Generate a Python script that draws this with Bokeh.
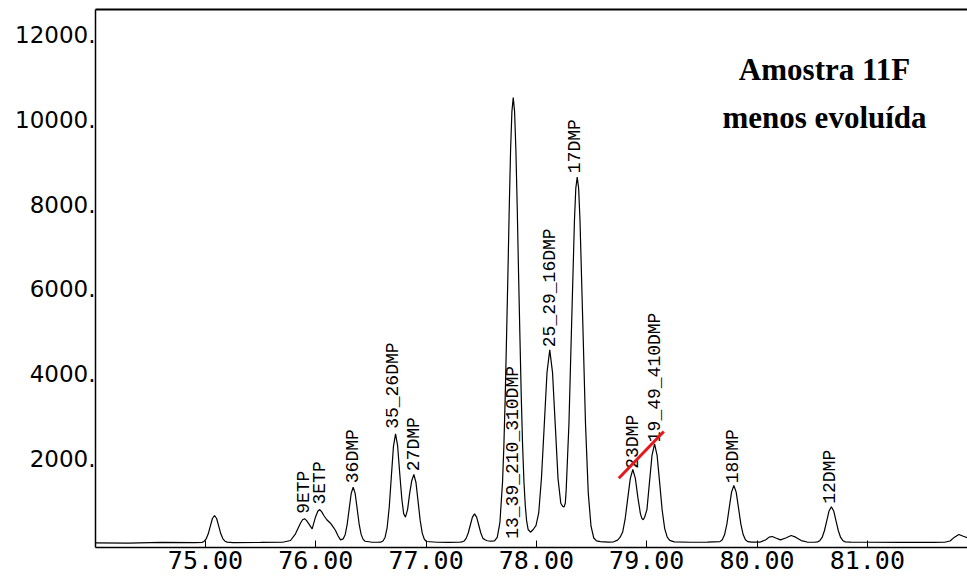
import math
from bokeh.plotting import figure
from bokeh.models import (Range1d, FixedTicker, LinearAxis, PrintfTickFormatter,
                          ColumnDataSource, Label)
from bokeh.core.properties import value
from bokeh.embed import file_html
from bokeh.resources import INLINE

# ---- chromatogram trace (retention time [min], abundance) ----
rt = [
    73.95, 74.0, 74.3, 74.6, 74.9,
    74.968, 74.987, 75.006, 75.025, 75.044, 75.063, 75.082, 75.101, 75.120, 75.139, 75.158, 75.177, 75.196,
    75.25, 75.5, 75.7,
    75.771, 75.816, 75.861, 75.88, 75.898, 75.915, 75.937, 75.967, 75.997, 76.018, 76.036, 76.054, 76.073,
    76.10, 76.133, 76.16, 76.179, 76.20, 76.224,
    76.249, 76.267, 76.285, 76.303, 76.321, 76.339, 76.357, 76.375, 76.393, 76.411, 76.429, 76.447,
    76.50, 76.56, 76.587,
    76.609, 76.628, 76.647, 76.666, 76.685, 76.704, 76.723, 76.742, 76.761, 76.780, 76.797, 76.813, 76.832,
    76.851, 76.870, 76.889, 76.908, 76.927, 76.946, 76.965, 76.984, 77.003,
    77.1, 77.2, 77.3,
    77.325, 77.344, 77.363, 77.382, 77.401, 77.420, 77.439, 77.458, 77.477, 77.496, 77.515, 77.534, 77.554, 77.584,
    77.62, 77.645, 77.669, 77.693, 77.705, 77.717, 77.729, 77.742, 77.754, 77.766, 77.778, 77.790, 77.802,
    77.814, 77.826, 77.838, 77.851, 77.863, 77.875, 77.887, 77.899, 77.911, 77.925, 77.946,
    77.971, 77.996, 78.021, 78.046, 78.071, 78.096, 78.121, 78.146, 78.171, 78.196, 78.221, 78.237, 78.250, 78.262,
    78.27, 78.295, 78.32, 78.345, 78.357, 78.370, 78.383, 78.395, 78.42, 78.445, 78.47, 78.495, 78.52, 78.545,
    78.58, 78.65, 78.70,
    78.736, 78.759, 78.782, 78.805, 78.828, 78.851, 78.874, 78.897, 78.920, 78.943, 78.955, 78.968, 78.981,
    79.002, 79.025, 79.048, 79.071, 79.094, 79.117, 79.14, 79.163, 79.186, 79.209,
    79.25, 79.4, 79.55,
    79.664, 79.685, 79.706, 79.727, 79.748, 79.769, 79.790, 79.811, 79.832, 79.853, 79.874, 79.895, 79.916,
    79.95, 80.03, 80.08, 80.11, 80.138, 80.17, 80.213, 80.26, 80.31, 80.35, 80.40, 80.455, 80.52,
    80.548, 80.569, 80.590, 80.611, 80.632, 80.653, 80.674, 80.695, 80.716, 80.737, 80.758, 80.779, 80.800,
    80.85, 81.0, 81.3, 81.6, 81.70, 81.75, 81.79, 81.83, 81.87, 81.906, 81.95,
]
signal = [
    15, 15, 10, 25, 20,
    27, 48, 107, 229, 411, 589, 660, 589, 411, 229, 110, 55, 32,
    20, 25, 30,
    71, 228, 479, 560, 582, 545, 464, 346, 620, 760, 801, 745, 660,
    560, 479, 380, 306, 190, 87,
    110, 215, 459, 822, 1178, 1330, 1178, 822, 459, 215, 97, 54,
    35, 30, 31,
    58, 142, 376, 860, 1580, 2286, 2586, 2300, 1650, 1050, 700, 620, 800,
    1180, 1480, 1626, 1440, 1000, 550, 246, 100, 48,
    30, 28, 30,
    37, 59, 121, 248, 436, 621, 700, 621, 436, 248, 121, 90, 65, 54,
    60, 146, 490, 1448, 2297, 3433, 4828, 6386, 7940, 9279, 10187, 10510, 10187,
    9279, 7940, 6386, 4828, 3433, 2297, 1460, 900, 540, 330, 266,
    330, 420, 720, 1550, 2780, 4030, 4565, 4035, 2790, 1530, 950, 880, 858, 950,
    1264, 2830, 5250, 7624, 8370, 8635, 8370, 7624, 5250, 2830, 1194, 408, 130, 60,
    45, 35, 40,
    80, 150, 269, 589, 1065, 1531, 1744, 1535, 1080, 700, 600, 559, 620,
    800, 1441, 2079, 2350, 2079, 1441, 790, 352, 150, 75,
    40, 30, 35,
    45, 89, 211, 464, 841, 1210, 1367, 1210, 841, 464, 211, 89, 45,
    32, 35, 90, 150, 165, 130, 87, 130, 189, 150, 70, 35, 30,
    39, 67, 143, 301, 536, 767, 865, 767, 536, 301, 143, 67, 39,
    35, 30, 25, 25, 30, 60, 150, 213, 170, 134, 100,
]

# ---- peak annotations ----
peak_labels = ["9ETP", "3ETP", "36DMP", "35_26DMP", "27DMP", "13_39_210_310DMP",
               "25_29_16DMP", "17DMP", "23DMP", "19_49_410DMP", "18DMP", "12DMP"]
label_rt = [75.896, 76.034, 76.337, 76.703, 76.886, 77.788,
            78.119, 78.347, 78.876, 79.075, 79.782, 80.662]
label_y = [700, 919, 1421, 2703, 1704, 111,
           4627, 8728, 1761, 2388, 1421, 936]

# red marker stroke
red_rt = [78.747, 79.155]
red_y = [1539, 2640]

# axes
x_ticks = [75, 76, 77, 78, 79, 80, 81]
y_ticks = [2000, 4000, 6000, 8000, 10000, 12000]
y_tick_labels = {t: f"{t}." for t in y_ticks}

title_lines = ["Amostra 11F", "menos evoluída"]
title_rt = 80.612
title_y = [11172, 10041]

p = figure(width=967, height=581, output_backend="svg", toolbar_location=None,
           x_range=Range1d(74.003, 81.908), y_range=Range1d(-94, 12587),
           min_border_left=95, min_border_right=0, min_border_top=9, min_border_bottom=34)
p.outline_line_color = None
p.grid.visible = False
p.background_fill_color = "white"
p.border_fill_color = "white"

xa = p.xaxis[0]
xa.ticker = FixedTicker(ticks=x_ticks)
xa.formatter = PrintfTickFormatter(format="%.2f")
xa.major_tick_in = 7
xa.major_tick_out = 0
xa.minor_tick_line_color = None
xa.axis_line_width = 1.5
xa.axis_line_color = "black"
xa.major_tick_line_color = "black"
xa.major_label_standoff = 3
xa.major_label_text_font = "DejaVu Sans Mono"
xa.major_label_text_font_size = "25px"
xa.major_label_text_color = "black"

ya = p.yaxis[0]
ya.ticker = FixedTicker(ticks=y_ticks)
ya.major_label_overrides = y_tick_labels
ya.major_tick_in = 0
ya.major_tick_out = 0
ya.minor_tick_line_color = None
ya.axis_line_width = 1.5
ya.axis_line_color = "black"
ya.major_label_standoff = 0
ya.major_label_text_font = "DejaVu Sans"
ya.major_label_text_font_size = "23px"
ya.major_label_text_color = "black"

top = LinearAxis(ticker=FixedTicker(ticks=[]), axis_line_width=2, axis_line_color="black",
                 major_tick_in=0, major_tick_out=0, minor_tick_in=0, minor_tick_out=0,
                 major_label_text_font_size="0px")
p.add_layout(top, "above")

p.line(rt, signal, line_color="black", line_width=1.2)

src = ColumnDataSource(dict(x=label_rt, y=label_y, t=peak_labels))
p.text(x="x", y="y", text="t", source=src, angle=math.pi / 2,
       text_align="left", text_baseline="middle",
       text_font=value("Liberation Mono"), text_font_size="18px", text_color="black")

p.line(red_rt, red_y, line_color="#e8161b", line_width=3)

for line_text, ty in zip(title_lines, title_y):
    p.add_layout(Label(x=title_rt, y=ty, text=line_text, text_align="center",
                       text_baseline="middle", text_font="Liberation Serif",
                       text_font_style="bold", text_font_size="31px", text_color="black"))

open("out.html", "w").write(file_html(p, INLINE))
